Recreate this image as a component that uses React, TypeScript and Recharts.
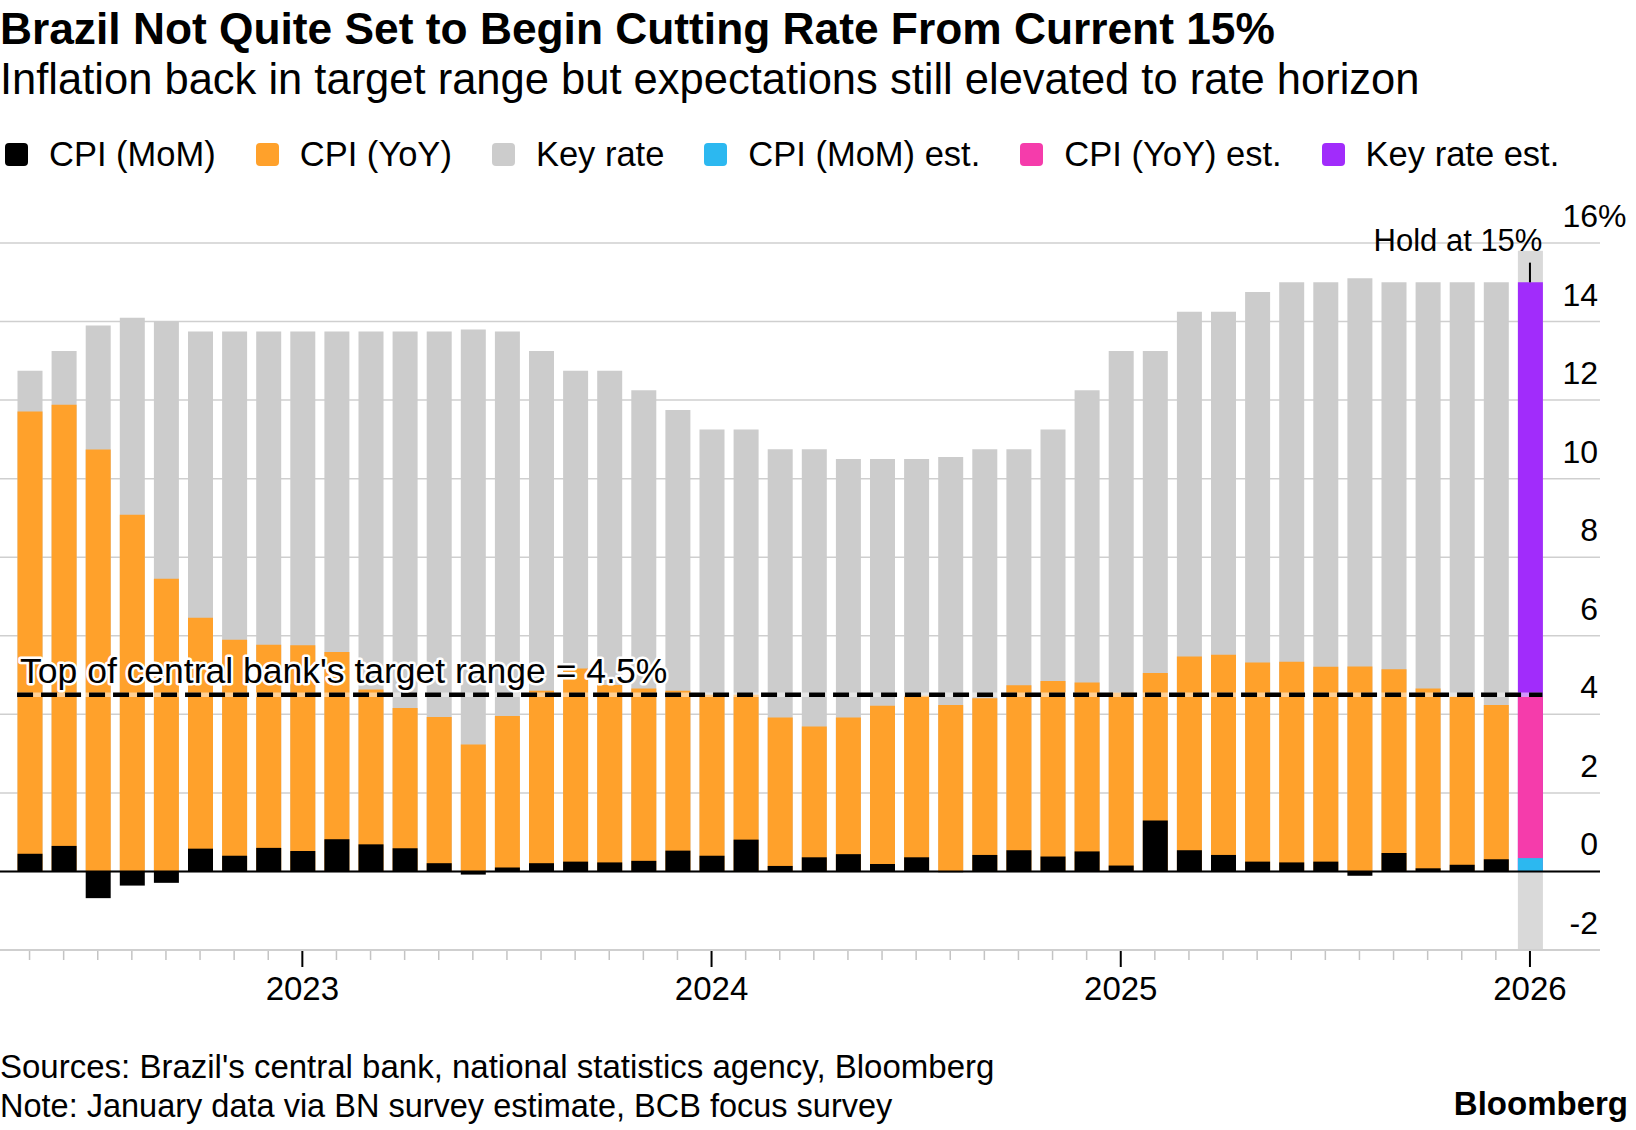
import React from "react";
import {
  BarChart,
  Bar,
  XAxis,
  YAxis,
  CartesianGrid,
  ReferenceLine,
} from "recharts";

// Months May 2022 .. Jan 2026, one bar each
const MONTHS = [
  "2022-05", "2022-06", "2022-07", "2022-08", "2022-09", "2022-10", "2022-11", "2022-12",
  "2023-01", "2023-02", "2023-03", "2023-04", "2023-05", "2023-06",
  "2023-07", "2023-08", "2023-09", "2023-10", "2023-11", "2023-12",
  "2024-01", "2024-02", "2024-03", "2024-04", "2024-05", "2024-06",
  "2024-07", "2024-08", "2024-09", "2024-10", "2024-11", "2024-12",
  "2025-01", "2025-02", "2025-03", "2025-04", "2025-05", "2025-06",
  "2025-07", "2025-08", "2025-09", "2025-10", "2025-11", "2025-12",
  "2026-01",
];

const KEY_RATE = [
  12.75, 13.25, 13.9, 14.1, 14.0, 13.75, 13.75, 13.75,
  13.75, 13.75, 13.75, 13.75, 13.75, 13.8, 13.75, 13.25, 12.75, 12.75, 12.25, 11.75,
  11.25, 11.25, 10.75, 10.75, 10.5, 10.5, 10.5, 10.55, 10.75, 10.75, 11.25, 12.25,
  13.25, 13.25, 14.25, 14.25, 14.75, 15, 15, 15.1, 15, 15, 15, 15,
  null,
];

const CPI_YOY = [
  11.71, 11.88, 10.74, 9.08, 7.45, 6.46, 5.9, 5.77,
  5.76, 5.59, 4.63, 4.16, 3.93, 3.23, 3.96, 4.6, 5.17, 4.75, 4.66, 4.6,
  4.5, 4.5, 3.92, 3.69, 3.92, 4.22, 4.47, 4.24, 4.41, 4.74, 4.85, 4.81,
  4.55, 5.05, 5.47, 5.52, 5.32, 5.34, 5.21, 5.22, 5.15, 4.66, 4.45, 4.24,
  null,
];

const CPI_MOM = [
  0.45, 0.65, -0.68, -0.36, -0.29, 0.58, 0.4, 0.6,
  0.52, 0.82, 0.69, 0.59, 0.21, -0.08, 0.1, 0.21, 0.25, 0.23, 0.27, 0.53,
  0.4, 0.81, 0.14, 0.36, 0.44, 0.19, 0.36, -0.02, 0.42, 0.54, 0.38, 0.51,
  0.15, 1.3, 0.54, 0.42, 0.25, 0.23, 0.25, -0.11, 0.47, 0.08, 0.17, 0.31,
  null,
];

// January 2026 estimates
const EST_MONTH = "2026-01";
const KEY_RATE_EST = 15;
const CPI_YOY_EST = 4.45;
const CPI_MOM_EST = 0.34;
const EST_BAND = [-2, 15.8];

const TARGET_TOP = 4.5;
const Y_TICKS = [-2, 0, 2, 4, 6, 8, 10, 12, 14, 16];

const COLORS = {
  mom: "#000000",
  yoy: "#ffa12b",
  rate: "#cccccc",
  momEst: "#2cb8f0",
  yoyEst: "#f53cab",
  rateEst: "#a12cfb",
  band: "#d9d9d9",
};

const LEGEND = [
  { label: "CPI (MoM)", color: COLORS.mom },
  { label: "CPI (YoY)", color: COLORS.yoy },
  { label: "Key rate", color: COLORS.rate },
  { label: "CPI (MoM) est.", color: COLORS.momEst },
  { label: "CPI (YoY) est.", color: COLORS.yoyEst },
  { label: "Key rate est.", color: COLORS.rateEst },
];

const FONT = '"Liberation Sans", Arial, Helvetica, sans-serif';

const data = MONTHS.map((m, i) => {
  const est = m === EST_MONTH;
  return {
    month: m,
    rate: KEY_RATE[i],
    yoy: CPI_YOY[i],
    mom: CPI_MOM[i],
    band: est ? EST_BAND : null,
    rateEst: est ? KEY_RATE_EST : null,
    yoyEst: est ? CPI_YOY_EST : null,
    momEst: est ? CPI_MOM_EST : null,
  };
});

const BAR_W = 25;

function MonthTick({ x, y, payload }: any) {
  const v = String(payload.value);
  const jan = v.endsWith("-01");
  return (
    <g>
      <line
        x1={x}
        x2={x}
        y1={y + 1}
        y2={y + (jan ? 17 : 10)}
        stroke={jan ? "#000" : "#c4c4c4"}
        strokeWidth={jan ? 2 : 1.5}
      />
      {jan && (
        <text x={x} y={y + 50} textAnchor="middle" fontSize={33} fontFamily={FONT} fill="#000">
          {v.slice(0, 4)}
        </text>
      )}
    </g>
  );
}

function RateTick({ x, y, payload }: any) {
  const v = payload.value;
  return (
    <g fontFamily={FONT} fontSize={32} fill="#000">
      <text x={x - 2} y={y - 16} textAnchor="end">
        {v}
      </text>
      {v === Y_TICKS[Y_TICKS.length - 1] && (
        <text x={x - 2} y={y - 16}>
          %
        </text>
      )}
    </g>
  );
}

function TargetShape(p: any) {
  const x1 = p.x1 - BAR_W / 2;
  const x2 = p.x2 + BAR_W / 2;
  return (
    <g>
      <line x1={x1} x2={x2} y1={p.y1} y2={p.y2} stroke="#fff" strokeOpacity={0.5} strokeWidth={4.5} />
      <line x1={x1} x2={x2} y1={p.y1} y2={p.y2} stroke="#000" strokeWidth={4.5} strokeDasharray="16 8" />
      <text
        x={x1 + 3}
        y={p.y1 - 12}
        fontFamily={FONT}
        fontSize={35.5}
        fill="#000"
        stroke="#fff"
        strokeWidth={5}
        strokeLinejoin="round"
        paintOrder="stroke"
      >
        Top of central bank's target range = 4.5%
      </text>
    </g>
  );
}

function HoldShape(p: any) {
  const top = Math.min(p.y1, p.y2);
  return (
    <g>
      <line x1={p.x1} x2={p.x2} y1={p.y1} y2={p.y2} stroke="#000" strokeWidth={2} />
      <text x={p.x1 + BAR_W / 2} y={top - 12} textAnchor="end" fontFamily={FONT} fontSize={31} fill="#000">
        Hold at 15%
      </text>
    </g>
  );
}

export default function App() {
  return (
    <div style={{ position: "relative", width: 1636, height: 1130, background: "#fff", fontFamily: FONT, color: "#000" }}>
      <style>{"body{margin:0}"}</style>

      <div style={{ position: "absolute", left: 0, top: 7, fontSize: 44.3, fontWeight: 700, lineHeight: 1, whiteSpace: "nowrap" }}>
        Brazil Not Quite Set to Begin Cutting Rate From Current 15%
      </div>
      <div style={{ position: "absolute", left: 0, top: 58, fontSize: 43.5, lineHeight: 1, whiteSpace: "nowrap" }}>
        Inflation back in target range but expectations still elevated to rate horizon
      </div>

      <div style={{ position: "absolute", left: 5, top: 134, height: 40, display: "flex", alignItems: "center" }}>
        {LEGEND.map((l) => (
          <div key={l.label} style={{ display: "flex", alignItems: "center", marginRight: 40 }}>
            <span style={{ display: "inline-block", width: 23, height: 23, borderRadius: 4, background: l.color, marginRight: 21 }} />
            <span style={{ fontSize: 34.5, lineHeight: 1, whiteSpace: "nowrap" }}>{l.label}</span>
          </div>
        ))}
      </div>

      <div style={{ position: "absolute", left: 0, top: 0 }}>
        <BarChart
          width={1636}
          height={1040}
          data={data}
          margin={{ top: 243, right: 0, bottom: 30, left: 0 }}
          barSize={BAR_W}
          barGap={-BAR_W}
        >
          <CartesianGrid vertical={false} stroke="#cfcfcf" strokeWidth={1.5} />
          <XAxis
            dataKey="month"
            interval={0}
            height={60}
            padding={{ left: 12.5, right: 53 }}
            tickLine={false}
            tickSize={0}
            tickMargin={0}
            axisLine={{ stroke: "#cfcfcf", strokeWidth: 2 }}
            tick={<MonthTick />}
          />
          <YAxis
            orientation="right"
            width={36}
            domain={[Y_TICKS[0], Y_TICKS[Y_TICKS.length - 1]]}
            ticks={Y_TICKS}
            allowDataOverflow
            axisLine={false}
            tickLine={false}
            tickSize={0}
            tickMargin={0}
            tick={<RateTick />}
          />
          <ReferenceLine y={0} stroke="#000" strokeWidth={2} />
          <Bar dataKey="band" fill={COLORS.band} isAnimationActive={false} />
          <Bar dataKey="rate" fill={COLORS.rate} isAnimationActive={false} />
          <Bar dataKey="yoy" fill={COLORS.yoy} isAnimationActive={false} />
          <Bar dataKey="mom" fill={COLORS.mom} isAnimationActive={false} />
          <Bar dataKey="rateEst" fill={COLORS.rateEst} isAnimationActive={false} />
          <Bar dataKey="yoyEst" fill={COLORS.yoyEst} isAnimationActive={false} />
          <Bar dataKey="momEst" fill={COLORS.momEst} isAnimationActive={false} />
          <ReferenceLine
            segment={[
              { x: MONTHS[0], y: TARGET_TOP },
              { x: MONTHS[MONTHS.length - 1], y: TARGET_TOP },
            ]}
            shape={TargetShape}
          />
          <ReferenceLine
            segment={[
              { x: EST_MONTH, y: KEY_RATE_EST },
              { x: EST_MONTH, y: 15.5 },
            ]}
            shape={HoldShape}
          />
        </BarChart>
      </div>

      <div style={{ position: "absolute", left: 0, top: 1050, fontSize: 33, lineHeight: 1, whiteSpace: "nowrap" }}>
        Sources: Brazil's central bank, national statistics agency, Bloomberg
      </div>
      <div style={{ position: "absolute", left: 0, top: 1090, fontSize: 32.5, lineHeight: 1, whiteSpace: "nowrap" }}>
        Note: January data via BN survey estimate, BCB focus survey
      </div>
      <div style={{ position: "absolute", right: 8, top: 1087, fontSize: 33, fontWeight: 700, lineHeight: 1 }}>
        Bloomberg
      </div>
    </div>
  );
}
